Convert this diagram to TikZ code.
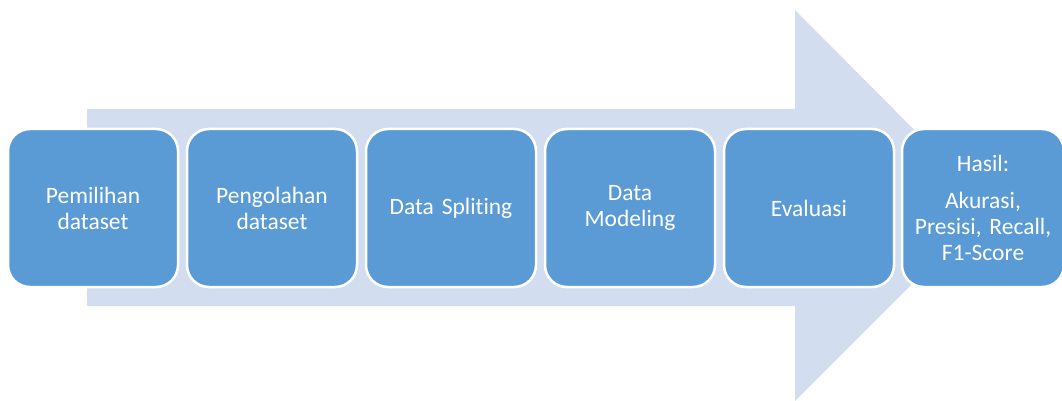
\documentclass[tikz,border=0pt]{standalone}
\usepackage{fontspec}
\setmainfont{Carlito}[Ligatures={NoCommon}]
\definecolor{boxblue}{HTML}{5B9BD5}
\definecolor{arrowblue}{HTML}{D2DEEF}
\begin{document}
\begin{tikzpicture}[x=1pt,y=-1pt,
  stepbox/.style={rectangle, rounded corners=22pt, fill=boxblue, draw=white, line width=2.5pt,
    minimum width=170pt, minimum height=158pt, inner sep=0pt, text=white, align=center,
    font=\fontsize{23.5}{26}\selectfont, text width=160pt}]
\useasboundingbox (0,0) rectangle (1062,401);
% big arrow
\fill[arrowblue] (87,109) -- (795,109) -- (795,10) -- (990,206) -- (795,401) -- (795,306) -- (87,306) -- cycle;
% boxes
\node[stepbox] (b1) at (93,208) {Pemilihan\\dataset};
\node[stepbox] (b2) at (272,208) {Pengolahan\\dataset};
\node[stepbox] (b3) at (451,208) {Data Spliting};
\node[stepbox] (b4) at (630,208) {Data\\Modeling};
\node[stepbox] (b5) at (809,208) {Evaluasi};
\node[stepbox, minimum width=162pt, text width=156pt] (b6) at (983,208) {Hasil:\\[11pt]Akurasi,\\Presisi, Recall,\\F1-Score};
\end{tikzpicture}
\end{document}
